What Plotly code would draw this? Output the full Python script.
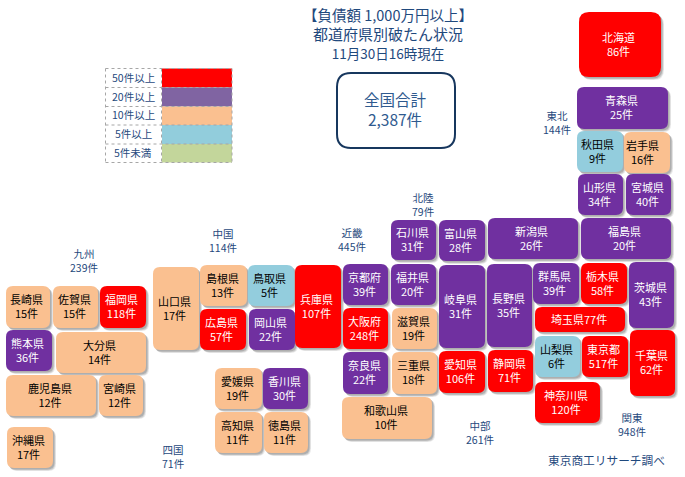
import plotly.graph_objects as go

# Prefecture data
prefectures = ['北海道', '青森県', '秋田県', '岩手県', '山形県', '宮城県', '福島県', '新潟県', '石川県', '富山県',
               '福井県', '群馬県', '栃木県', '茨城県', '埼玉県', '山梨県', '東京都', '千葉県', '神奈川県', '長野県',
               '岐阜県', '静岡県', '愛知県', '三重県', '滋賀県', '京都府', '大阪府', '奈良県', '和歌山県', '兵庫県',
               '鳥取県', '島根県', '岡山県', '広島県', '山口県', '香川県', '愛媛県', '徳島県', '高知県', '福岡県',
               '佐賀県', '長崎県', '熊本県', '大分県', '宮崎県', '鹿児島県', '沖縄県']
counts = [86, 25, 9, 16, 34, 40, 20, 26, 31, 28,
          20, 39, 58, 43, 77, 6, 517, 62, 120, 35,
          31, 71, 106, 18, 19, 39, 248, 22, 10, 107,
          5, 13, 22, 57, 17, 30, 19, 11, 11, 118,
          15, 15, 36, 14, 12, 12, 17]

regions = ['東北', '北陸', '関東', '中部', '近畿', '中国', '四国', '九州']
region_counts = [144, 79, 948, 261, 445, 114, 71, 239]

legend_labels = ['50件以上', '20件以上', '10件以上', '5件以上', '5件未満']
thresholds = [50, 20, 10, 5, 0]

title_lines = ['【負債額 1,000万円以上】', '都道府県別破たん状況', '11月30日16時現在']
total_label = '全国合計'
total_count = '2,387件'
source_note = '東京商工リサーチ調べ'

# Tile placement in pixels (left, top, right, bottom), same order as prefectures
tile_boxes = [(579, 12, 661, 77), (577, 87, 668, 129), (577, 131, 623, 172), (624, 132, 670, 173),
              (578, 174, 623, 215), (626, 174, 671, 215), (581, 218, 671, 259), (488, 218, 578, 259),
              (391, 220, 436, 260), (439, 220, 485, 261), (391, 264, 436, 305), (533, 263, 579, 304),
              (581, 263, 627, 304), (629, 262, 674, 328), (535, 307, 625, 332), (535, 336, 580, 377),
              (582, 336, 628, 377), (630, 330, 675, 396), (535, 382, 600, 423), (487, 264, 532, 347),
              (439, 265, 485, 348), (488, 350, 533, 392), (439, 351, 485, 393), (392, 352, 437, 394),
              (392, 308, 437, 349), (343, 264, 388, 305), (343, 308, 388, 349), (343, 352, 388, 394),
              (342, 397, 432, 439), (295, 265, 341, 348), (248, 265, 294, 306), (200, 265, 247, 306),
              (249, 309, 295, 350), (200, 309, 246, 350), (153, 267, 199, 350), (263, 368, 308, 409),
              (215, 368, 262, 409), (264, 412, 308, 453), (215, 412, 262, 453), (100, 286, 146, 328),
              (53, 286, 98, 328), (6, 286, 50, 328), (6, 330, 52, 371), (56, 332, 146, 373),
              (99, 375, 143, 416), (6, 375, 96, 416), (7, 427, 53, 468)]

region_centers = [(557, 122), (423, 204), (632, 424), (480, 432), (352, 239), (223, 240), (173, 456), (84, 260)]
nudge_x = {'秋田県': -1.5, '岩手県': -3.5}

tile_colors = ['#FF0000', '#7030A0', '#FAC090', '#93CDDD', '#C3D69B']
legend_colors = ['#FF0000', '#8064A2', '#FAC090', '#92CDDC', '#C3D69B']
navy = '#1F497D'
font_name = 'Noto Sans CJK JP'


def band(n):
    for i, t in enumerate(thresholds):
        if n >= t:
            return i
    return len(thresholds) - 1


def round_rect(x0, y0, x1, y1, r):
    return (f'M{x0 + r},{y0} L{x1 - r},{y0} Q{x1},{y0} {x1},{y0 + r} L{x1},{y1 - r} Q{x1},{y1} {x1 - r},{y1} '
            f'L{x0 + r},{y1} Q{x0},{y1} {x0},{y1 - r} L{x0},{y0 + r} Q{x0},{y0} {x0 + r},{y0} Z')


def label(x, y, text, size, color):
    return dict(x=x, y=y, xref='x', yref='y', text=text, showarrow=False, xanchor='center', yanchor='middle',
                borderpad=0, align='center', font=dict(family=font_name, size=size, color=color))


shapes = []
for box in tile_boxes:
    r = 10 if box == tile_boxes[0] else 7
    # soft shadow, lower right
    for off, op in [(3, 0.12), (2.2, 0.18), (1.4, 0.22)]:
        shapes.append(dict(type='path', xref='x', yref='y', layer='below', line_width=0,
                           path=round_rect(box[0] + off, box[1] + off, box[2] + off, box[3] + off, r),
                           fillcolor=f'rgba(70,70,70,{op})'))
for box, n in zip(tile_boxes, counts):
    r = 10 if box == tile_boxes[0] else 7
    shapes.append(dict(type='path', xref='x', yref='y', layer='below', line_width=0,
                       path=round_rect(*box, r), fillcolor=tile_colors[band(n)]))

# Total box
shapes.append(dict(type='path', xref='x', yref='y', layer='below', fillcolor='white',
                   line=dict(color='#17375E', width=2), path=round_rect(337, 73, 455, 148, 14)))

# Legend table
row_edges = [68.5, 87.5, 106.5, 125, 144, 162.5]
for i, c in enumerate(legend_colors):
    shapes.append(dict(type='rect', xref='x', yref='y', layer='below', line_width=0, fillcolor=c,
                       x0=162, x1=232, y0=row_edges[i], y1=row_edges[i + 1]))
for y in row_edges:
    shapes.append(dict(type='line', xref='x', yref='y', x0=105.5, x1=232, y0=y, y1=y,
                       line=dict(color='#A6A6A6', width=1, dash='dot')))
for x in [105.5, 161.5, 232]:
    shapes.append(dict(type='line', xref='x', yref='y', x0=x, x1=x, y0=row_edges[0], y1=row_edges[-1],
                       line=dict(color='#A6A6A6', width=1, dash='dot')))

annotations = []

# Tile labels
for p, n, b in zip(prefectures, counts, tile_boxes):
    cx = (b[0] + b[2]) / 2 - 1.5 + nudge_x.get(p, 0)
    cy = (b[1] + b[3]) / 2 - 1
    c = 'white' if band(n) < 2 else 'black'
    text = f'{p}{n}件' if p == '埼玉県' else f'{p}<br>{n}件'
    annotations.append(label(cx, cy, text, 11, c))

# Region labels
for r, n, (x, y) in zip(regions, region_counts, region_centers):
    annotations.append(label(x, y, f'{r}<br>{n}件', 10.5, navy))

# Legend labels
for i, t in enumerate(legend_labels):
    annotations.append(label(133, (row_edges[i] + row_edges[i + 1]) / 2 - 1, t, 10.5, navy))

# Header, total, source note
title_text = (f'{title_lines[0]}<br><span style="font-size:15px">{title_lines[1]}</span><br>'
              f'<span style="font-size:13.5px">{title_lines[2]}</span>')
annotations.append(label(388, 33.5, title_text, 14.5, navy))
annotations.append(label(395.5, 109, f'{total_label}<br>{total_count}', 15.5, '#2F5A8F'))
annotations.append(label(606, 459, source_note, 11.7, navy))

fig = go.Figure()
fig.update_layout(
    width=685,
    height=477,
    margin=dict(l=0, r=0, t=0, b=0),
    showlegend=False,
    plot_bgcolor='white',
    paper_bgcolor='white',
    shapes=shapes,
    annotations=annotations,
    xaxis=dict(range=[0, 685], visible=False, fixedrange=True),
    yaxis=dict(range=[477, 0], visible=False, fixedrange=True),
)

fig.write_html("out.html", config=dict(displayModeBar=False),
               post_script="document.body.style.margin='0';")
